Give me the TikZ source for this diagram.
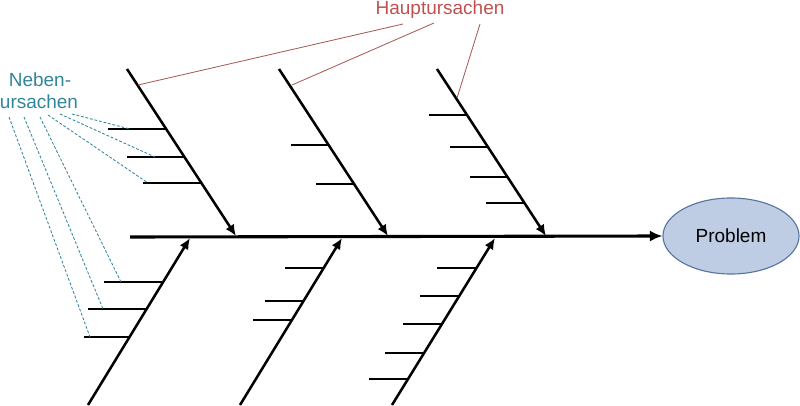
\documentclass[tikz,border=0pt]{standalone}
\usepackage{fontspec}
\setmainfont{Liberation Sans}
\usepackage{xcolor}
\usetikzlibrary{arrows.meta,shapes,positioning,calc}
\definecolor{hauptred}{RGB}{192,80,77}
\definecolor{hauptline}{RGB}{168,92,88}
\definecolor{nebenteal}{RGB}{49,133,155}
\definecolor{probfill}{RGB}{190,205,227}
\definecolor{probdraw}{RGB}{88,118,160}
\tikzstyle{bone}=[line width=1.8pt,-{Latex[length=8pt,width=7pt]}]
\tikzstyle{twig}=[line width=1.2pt]
\tikzstyle{lbl}=[inner sep=0pt,font=\fontsize{13.5}{16}\selectfont]
\begin{document}
\begin{tikzpicture}[x=0.025cm,y=-0.025cm,hleader/.style={hauptline,line width=0.6pt},nleader/.style={nebenteal,line width=0.6pt,dash pattern=on 2pt off 1.3pt}]
\useasboundingbox (0,0) rectangle (800,406);
\node (prob) at (731,236)[ellipse,draw=probdraw,fill=probfill,line width=0.8pt,minimum width=3.4cm,minimum height=1.9cm,lbl] {Problem};
\node (haupt) at (440,15)[lbl,anchor=base,text=hauptred] {Hauptursachen};
\node (neben) at (40,87)[lbl,anchor=base,text=nebenteal] {Neben-};
\node (ursachen) at (39,109)[lbl,anchor=base,text=nebenteal] {ursachen};
% spine
\coordinate (tail) at (130,237);
\draw[line width=2.2pt,-{Latex[length=9pt,width=8pt]}] (tail) -- (prob.west);
% upper bones
\coordinate (u1s) at (127,69);
\coordinate (u1e) at (236,236);
\coordinate (u2s) at (279,69);
\coordinate (u2e) at (388,236);
\coordinate (u3s) at (437,69);
\coordinate (u3e) at (546,236);
\draw[bone] (u1s) -- (u1e);
\draw[bone] (u2s) -- (u2e);
\draw[bone] (u3s) -- (u3e);
% lower bones
\coordinate (l1s) at (88,405);
\coordinate (l1e) at (190,238);
\coordinate (l2s) at (240,405);
\coordinate (l2e) at (342,238);
\coordinate (l3s) at (392,405);
\coordinate (l3e) at (495,238);
\draw[bone] (l1s) -- (l1e);
\draw[bone] (l2s) -- (l2e);
\draw[bone] (l3s) -- (l3e);
% twigs
\draw[twig] (108,129) -- (166,129);
\draw[twig] (127,157) -- (184,157);
\draw[twig] (143,183) -- (201,183);
\draw[twig] (291,145) -- (329,145);
\draw[twig] (316,184) -- (354,184);
\draw[twig] (429,115) -- (467,115);
\draw[twig] (450,147) -- (488,147);
\draw[twig] (470,177) -- (507,177);
\draw[twig] (486,203) -- (524,203);
\draw[twig] (104,282) -- (163,282);
\draw[twig] (88,309) -- (146,309);
\draw[twig] (84,337) -- (129,337);
\draw[twig] (285,268) -- (323,268);
\draw[twig] (265,301) -- (303,301);
\draw[twig] (253,320) -- (291,320);
\draw[twig] (437,268) -- (476,268);
\draw[twig] (420,296) -- (459,296);
\draw[twig] (403,324) -- (441,324);
\draw[twig] (385,353) -- (423,353);
\draw[twig] (369,379) -- (408,379);
% Hauptursachen leaders
\coordinate (h1) at (403,24);
\coordinate (h2) at (434,23);
\coordinate (h3) at (480,24);
\coordinate (hb1) at (138,85);
\coordinate (hb2) at (292,85);
\coordinate (hb3) at (457,98);
\draw[hleader] (h1) -- (hb1);
\draw[hleader] (h2) -- (hb2);
\draw[hleader] (h3) -- (hb3);
% Nebenursachen leaders
\coordinate (n1) at (72,114);
\coordinate (n2) at (60,114);
\coordinate (n3) at (48,115);
\coordinate (n4) at (40,117);
\coordinate (n5) at (24,117);
\coordinate (n6) at (9,117);
\coordinate (t1) at (130,129);
\coordinate (t2) at (155,157);
\coordinate (t3) at (148,183);
\coordinate (t4) at (121,282);
\coordinate (t5) at (103,309);
\coordinate (t6) at (90,337);
\draw[nleader] (n1) -- (t1);
\draw[nleader] (n2) -- (t2);
\draw[nleader] (n3) -- (t3);
\draw[nleader] (n4) -- (t4);
\draw[nleader] (n5) -- (t5);
\draw[nleader] (n6) -- (t6);
\end{tikzpicture}
\end{document}
